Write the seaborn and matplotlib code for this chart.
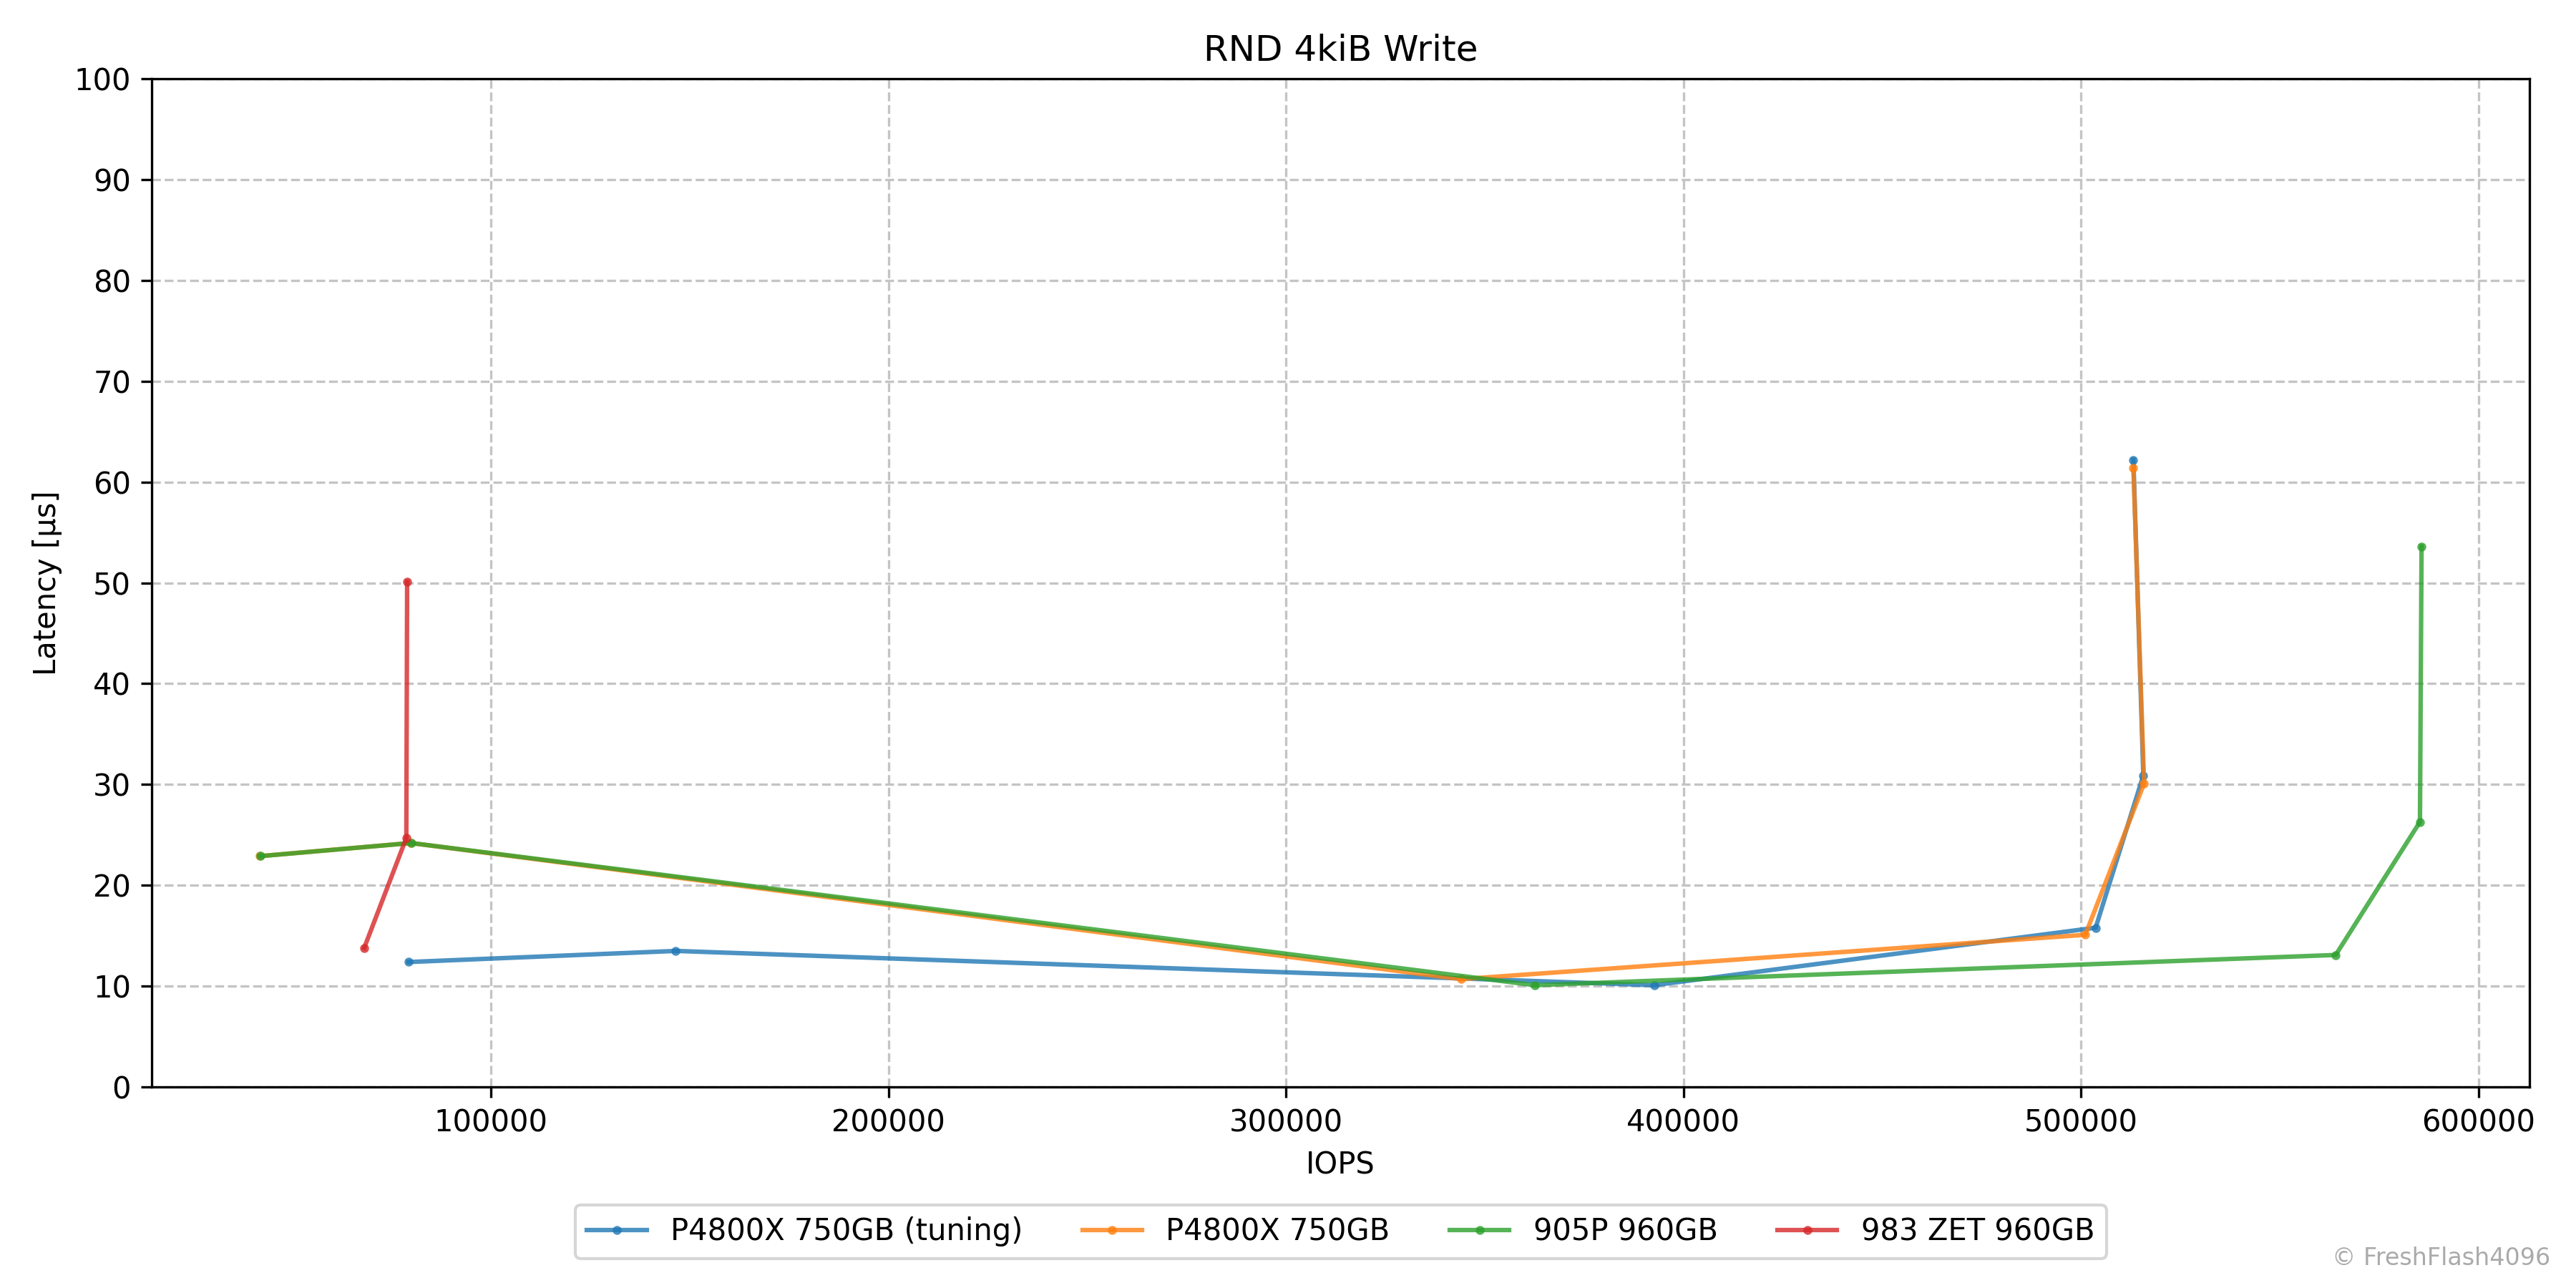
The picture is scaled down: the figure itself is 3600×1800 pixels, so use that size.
import matplotlib
matplotlib.use("Agg")
import matplotlib.pyplot as plt
import seaborn as sns
import pandas as pd

series_names = ["P4800X 750GB (tuning)", "P4800X 750GB", "905P 960GB", "983 ZET 960GB"]

p4800x_tuning_iops = [79300, 146500, 392600, 503700, 515700, 513200]
p4800x_tuning_lat = [12.4, 13.5, 10.1, 15.8, 30.9, 62.2]

p4800x_iops = [41900, 79800, 344000, 501100, 515900, 513200]
p4800x_lat = [22.9, 24.2, 10.7, 15.1, 30.1, 61.4]

p905_iops = [42000, 79900, 362600, 564100, 585300, 585700]
p905_lat = [22.9, 24.2, 10.1, 13.1, 26.3, 53.6]

zet983_iops = [68100, 78700, 78900]
zet983_lat = [13.8, 24.7, 50.1]

frames = []
for name, xs, ys in zip(series_names,
                        [p4800x_tuning_iops, p4800x_iops, p905_iops, zet983_iops],
                        [p4800x_tuning_lat, p4800x_lat, p905_lat, zet983_lat]):
    frames.append(pd.DataFrame({"IOPS": xs, "Latency": ys, "Drive": name,
                                "order": range(len(xs))}))
df = pd.concat(frames, ignore_index=True)

palette = ["#1f77b4", "#ff7f0e", "#2ca02c", "#d62728"]

fig, ax = plt.subplots(figsize=(12, 6), dpi=300)
fig.subplots_adjust(left=0.059, right=0.982, top=0.939, bottom=0.156)

sns.lineplot(data=df, x="IOPS", y="Latency", hue="Drive", hue_order=series_names,
             palette=palette, sort=False, estimator=None, units="Drive",
             marker="o", markersize=3, markeredgewidth=0, linewidth=1.5,
             alpha=0.8, ax=ax)

ax.set_ylim(0, 100)
ax.set_yticks(range(0, 101, 10))
ax.set_title("RND 4kiB Write", fontsize=12)
ax.set_xlabel("IOPS")
ax.set_ylabel("Latency [µs]")
ax.grid(True, linestyle="--", color="#c4c4c4", linewidth=0.8)
ax.set_axisbelow(True)

handles, labels = ax.get_legend_handles_labels()
ax.legend(handles, labels, loc="upper center", bbox_to_anchor=(0.5, -0.102),
          ncol=4, frameon=True, fontsize=10)

fig.text(0.99, 0.014, "© FreshFlash4096", ha="right", va="bottom",
         fontsize=8, color="#aaaaaa")

fig.savefig("out.png", dpi=300)
